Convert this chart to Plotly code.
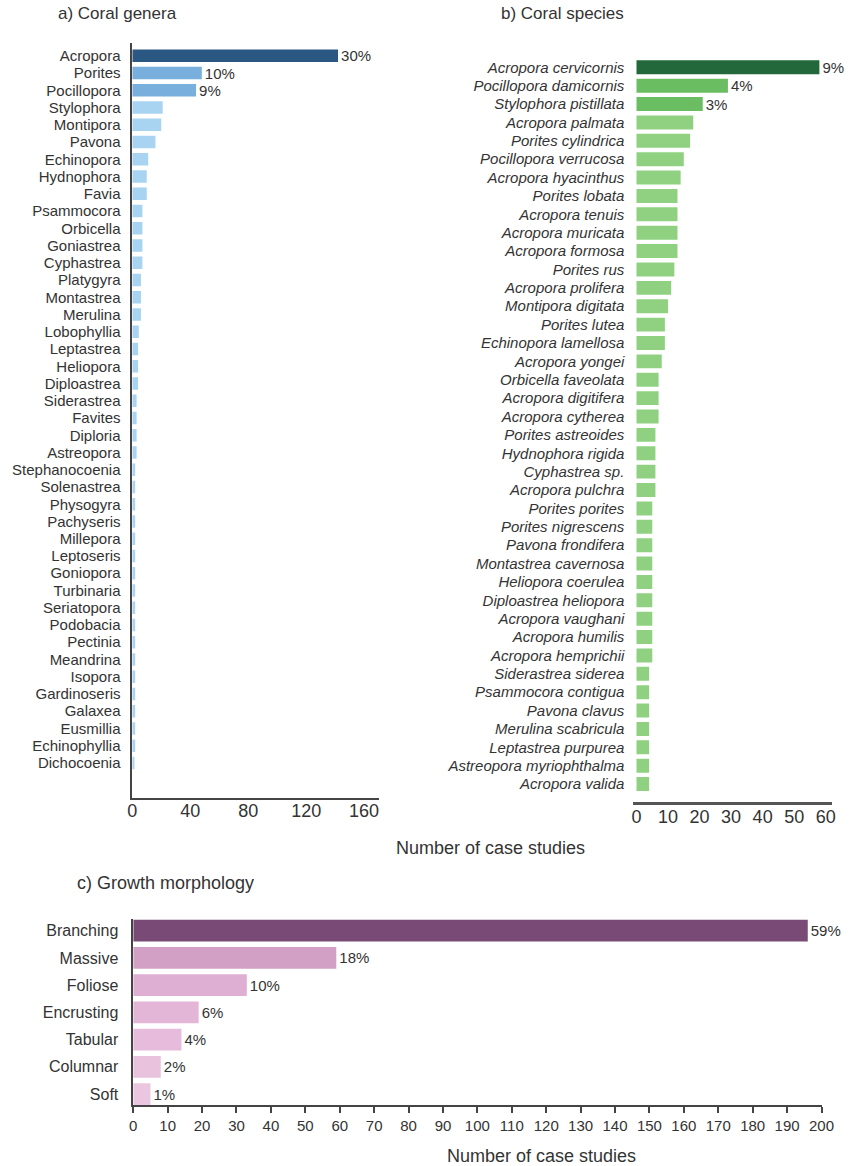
import plotly.graph_objects as go

W, H = 859, 1166

# ---------------- data ----------------
genera = ["Acropora", "Porites", "Pocillopora", "Stylophora", "Montipora", "Pavona",
          "Echinopora", "Hydnophora", "Favia", "Psammocora", "Orbicella", "Goniastrea",
          "Cyphastrea", "Platygyra", "Montastrea", "Merulina", "Lobophyllia", "Leptastrea",
          "Heliopora", "Diploastrea", "Siderastrea", "Favites", "Diploria", "Astreopora",
          "Stephanocoenia", "Solenastrea", "Physogyra", "Pachyseris", "Millepora",
          "Leptoseris", "Goniopora", "Turbinaria", "Seriatopora", "Podobacia", "Pectinia",
          "Meandrina", "Isopora", "Gardinoseris", "Galaxea", "Eusmillia", "Echinophyllia",
          "Dichocoenia"]
genera_counts = [142, 48, 44, 21, 20, 16, 11, 10, 10, 7, 7, 7, 7, 6, 6, 6, 4.5, 4, 4, 4,
                 3, 3, 3, 3, 2, 2, 2, 2, 2, 2, 2, 2, 2, 2, 2, 2, 2, 2, 2, 2, 2, 1.5]
genera_pct = ["30%", "10%", "9%"] + [""] * (len(genera) - 3)

species = ["Acropora cervicornis", "Pocillopora damicornis", "Stylophora pistillata",
           "Acropora palmata", "Porites cylindrica", "Pocillopora verrucosa",
           "Acropora hyacinthus", "Porites lobata", "Acropora tenuis", "Acropora muricata",
           "Acropora formosa", "Porites rus", "Acropora prolifera", "Montipora digitata",
           "Porites lutea", "Echinopora lamellosa", "Acropora yongei", "Orbicella faveolata",
           "Acropora digitifera", "Acropora cytherea", "Porites astreoides",
           "Hydnophora rigida", "Cyphastrea sp.", "Acropora pulchra", "Porites porites",
           "Porites nigrescens", "Pavona frondifera", "Montastrea cavernosa",
           "Heliopora coerulea", "Diploastrea heliopora", "Acropora vaughani",
           "Acropora humilis", "Acropora hemprichii", "Siderastrea siderea",
           "Psammocora contigua", "Pavona clavus", "Merulina scabricula",
           "Leptastrea purpurea", "Astreopora myriophthalma", "Acropora valida"]
species_counts = [58, 29, 21, 18, 17, 15, 14, 13, 13, 13, 13, 12, 11, 10, 9, 9, 8, 7, 7, 7,
                  6, 6, 6, 6, 5, 5, 5, 5, 5, 5, 5, 5, 5, 4, 4, 4, 4, 4, 4, 4]
species_pct = ["9%", "4%", "3%"] + [""] * (len(species) - 3)

morph = ["Branching", "Massive", "Foliose", "Encrusting", "Tabular", "Columnar", "Soft"]
morph_counts = [196, 59, 33, 19, 14, 8, 5]
morph_pct = ["59%", "18%", "10%", "6%", "4%", "2%", "1%"]

genera_ticks = [0, 40, 80, 120, 160]
species_ticks = [0, 10, 20, 30, 40, 50, 60]
morph_ticks = list(range(0, 201, 10))

# ---------------- colours ----------------
genera_colors = ["#2b5783", "#78afdd", "#78afdd"] + ["#a9d4f1"] * (len(genera) - 3)
species_colors = ["#22683a", "#6bbd62", "#6bbd62"] + ["#8fd181"] * (len(species) - 3)
morph_colors = ["#7a4a77", "#d1a0c4", "#dfaed3", "#e3b6d8", "#e6bbdb", "#e9c2de", "#ebc6e0"]

FONT = "Arial, Liberation Sans, sans-serif"
TXT = "#333333"

def px_x(p):
    return p / W

def px_y(p):
    return 1 - p / H

fig = go.Figure()

fig.add_trace(go.Bar(
    x=genera_counts, y=genera, orientation="h", width=0.72,
    marker=dict(color=genera_colors, line=dict(width=0)),
    text=genera_pct, textposition="outside", constraintext="none", cliponaxis=False,
    textfont=dict(family=FONT, size=15, color=TXT),
    xaxis="x", yaxis="y", showlegend=False, hoverinfo="x+y"))

fig.add_trace(go.Bar(
    x=species_counts, y=species, orientation="h", width=0.76,
    marker=dict(color=species_colors, line=dict(width=0)),
    text=species_pct, textposition="outside", constraintext="none", cliponaxis=False,
    textfont=dict(family=FONT, size=15, color=TXT),
    xaxis="x2", yaxis="y2", showlegend=False, hoverinfo="x+y"))

fig.add_trace(go.Bar(
    x=morph_counts, y=morph, orientation="h", width=0.8,
    marker=dict(color=morph_colors, line=dict(width=0)),
    text=morph_pct, textposition="outside", constraintext="none", cliponaxis=False,
    textfont=dict(family=FONT, size=15, color=TXT),
    xaxis="x3", yaxis="y3", showlegend=False, hoverinfo="x+y"))

tickfont18 = dict(family=FONT, size=18, color=TXT)

fig.update_layout(
    width=W, height=H,
    margin=dict(l=0, r=0, t=0, b=0),
    paper_bgcolor="white", plot_bgcolor="white",
    font=dict(family=FONT, color=TXT),
    # panel a
    xaxis=dict(domain=[px_x(130), px_x(381.6)], range=[0, 170], anchor="y",
               tickvals=genera_ticks, ticktext=[str(v) for v in genera_ticks],
               showgrid=False, zeroline=False, showline=True, linecolor="#444444",
               linewidth=2, ticks="", tickfont=tickfont18, ticklabelstandoff=-5),
    yaxis=dict(domain=[px_y(798), px_y(43)], range=[43.03, -0.74],
               anchor="x", type="category", categoryorder="array", categoryarray=genera,
               tickmode="array", tickvals=genera, ticktext=genera,
               showgrid=False, zeroline=False, showline=True, linecolor="#444444",
               linewidth=1.5, ticks="", ticklabelstandoff=7,
               tickfont=dict(family=FONT, size=15, color=TXT)),
    # panel b
    xaxis2=dict(domain=[px_x(641.8), px_x(844.7)], range=[-1, 62], anchor="y2",
                tickvals=species_ticks, ticktext=[str(v) for v in species_ticks],
                showgrid=False, zeroline=False, showline=True, linecolor="#555555",
                linewidth=2.5, ticks="", tickfont=tickfont18, ticklabelstandoff=-3),
    yaxis2=dict(domain=[px_y(801.7), px_y(56.3)], range=[len(species) - 1 + 0.96, -0.6],
                anchor="x2", type="category", categoryorder="array", categoryarray=species,
                tickmode="array", tickvals=species, ticktext=species,
                showgrid=False, zeroline=False, showline=False, ticks="",
                ticklabelstandoff=8,
                tickfont=dict(family=FONT, size=15, color=TXT, style="italic")),
    # panel c
    xaxis3=dict(domain=[px_x(131), px_x(834)], range=[0, 200], anchor="y3",
                tickvals=morph_ticks, ticktext=[str(v) for v in morph_ticks],
                showgrid=False, zeroline=False, showline=True, linecolor="#444444",
                linewidth=2, ticks="outside", ticklen=6, tickwidth=1.5, tickcolor="#444444",
                tickfont=dict(family=FONT, size=15, color=TXT)),
    yaxis3=dict(domain=[px_y(1105), px_y(919)], range=[len(morph) - 1 + 0.4, -0.43],
                anchor="x3", type="category", categoryorder="array", categoryarray=morph,
                tickmode="array", tickvals=morph, ticktext=morph,
                showgrid=False, zeroline=False, showline=True, linecolor="#444444",
                linewidth=1.5, ticks="", ticklabelstandoff=10,
                tickfont=dict(family=FONT, size=16, color=TXT)),
)

annotations = [
    dict(text="a) Coral genera", x=px_x(52), y=px_y(14), xanchor="left", yanchor="middle",
         font=dict(family=FONT, size=17, color=TXT)),
    dict(text="b) Coral species", x=px_x(505), y=px_y(14), xanchor="left", yanchor="middle",
         font=dict(family=FONT, size=17, color=TXT)),
    dict(text="c) Growth morphology", x=px_x(72), y=px_y(883), xanchor="left",
         yanchor="middle", font=dict(family=FONT, size=18, color=TXT)),
    dict(text="Number of case studies", x=px_x(496), y=px_y(848), xanchor="center",
         yanchor="middle", font=dict(family=FONT, size=18, color=TXT)),
    dict(text="Number of case studies", x=px_x(548), y=px_y(1156), xanchor="center",
         yanchor="middle", font=dict(family=FONT, size=18, color=TXT)),
]
for a in annotations:
    a.update(xref="paper", yref="paper", showarrow=False)
fig.update_layout(annotations=annotations)

fig.write_html("out.html")
